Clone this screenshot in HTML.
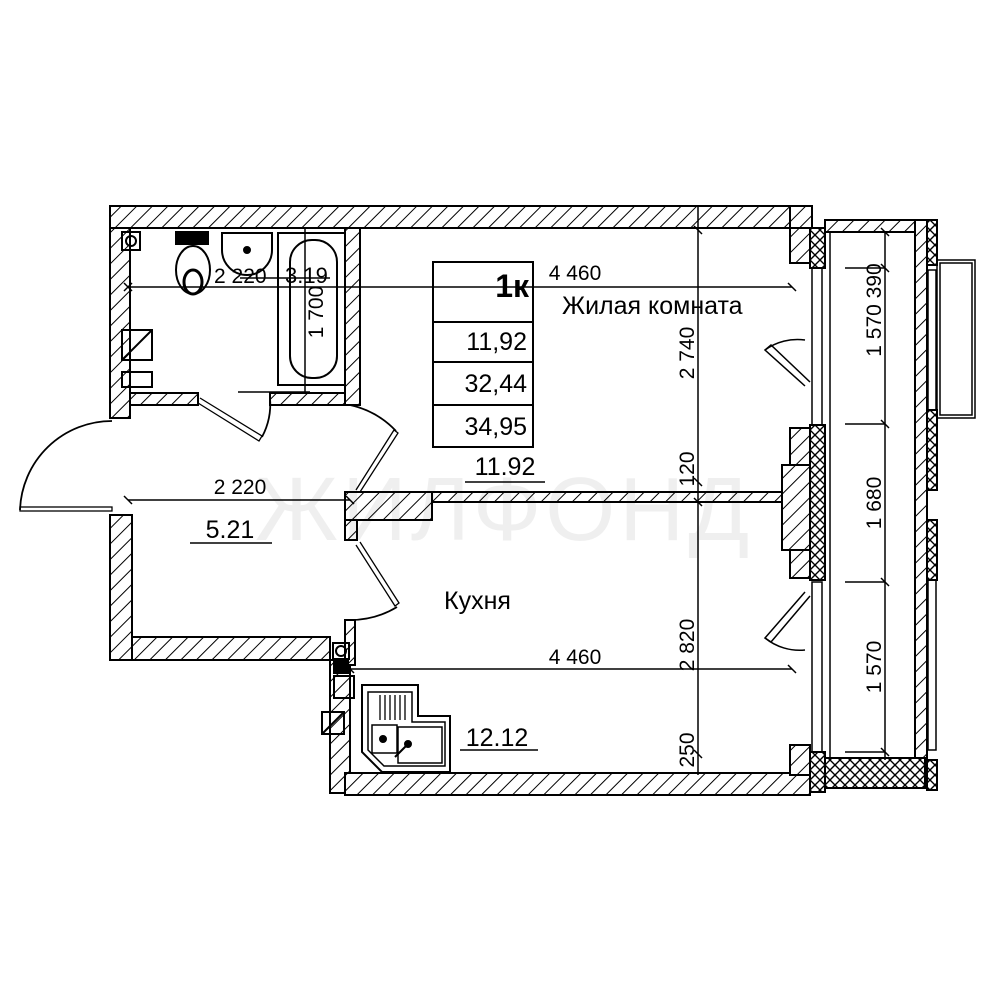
<!DOCTYPE html>
<html><head><meta charset="utf-8"><style>
html,body{margin:0;padding:0;background:#fff;}
svg{display:block;}
text{font-family:"Liberation Sans Narrow","Liberation Sans",sans-serif;fill:#000;}
</style></head><body>
<svg width="1000" height="1000" viewBox="0 0 1000 1000" xmlns="http://www.w3.org/2000/svg">
<defs>
<pattern id="h" patternUnits="userSpaceOnUse" width="11" height="11" patternTransform="rotate(45)">
<rect width="11" height="11" fill="#fff"/><line x1="0" y1="0" x2="0" y2="11" stroke="#000" stroke-width="2"/>
</pattern>
<pattern id="x" patternUnits="userSpaceOnUse" width="10" height="10">
<rect width="10" height="10" fill="#fff"/><path d="M0 0L10 10M10 0L0 10" stroke="#000" stroke-width="1.4"/>
</pattern>
</defs>
<g stroke="#000" stroke-width="2" fill="url(#h)">
<rect x="110" y="206" width="680" height="22"/>
<rect x="790" y="206" width="22" height="22"/>
<rect x="110" y="228" width="20" height="190"/>
<rect x="110" y="515" width="22" height="145"/>
<rect x="132" y="637" width="198" height="23"/>
<rect x="345" y="228" width="15" height="177"/>
<rect x="130" y="393" width="68" height="12"/>
<rect x="270" y="393" width="75" height="12"/>
<rect x="330" y="660" width="20" height="133"/>
<rect x="345" y="620" width="10" height="45"/>
<rect x="345" y="773" width="465" height="22"/>
<rect x="345" y="492" width="445" height="10"/>
<rect x="345" y="492" width="87" height="28"/>
<rect x="345" y="520" width="12" height="20"/>
<rect x="790" y="228" width="20" height="35"/>
<rect x="790" y="428" width="20" height="150"/>
<rect x="782" y="465" width="28" height="85"/>
<rect x="790" y="745" width="20" height="30"/>
<rect x="825" y="220" width="100" height="12"/>
<rect x="915" y="220" width="12" height="540"/>
</g>
<g stroke="#000" stroke-width="2" fill="url(#x)">
<rect x="810" y="228" width="15" height="40"/>
<rect x="810" y="425" width="15" height="155"/>
<rect x="810" y="752" width="15" height="40"/>
<rect x="825" y="758" width="100" height="30"/>
<rect x="927" y="220" width="10" height="45"/>
<rect x="927" y="410" width="10" height="80"/>
<rect x="927" y="520" width="10" height="60"/>
<rect x="927" y="760" width="10" height="30"/>
</g>
<g stroke="#000" stroke-width="1.5" fill="none">
<rect x="812" y="268" width="10" height="157"/>
<rect x="812" y="582" width="10" height="170"/>
<rect x="928" y="270" width="8" height="140"/>
<rect x="928" y="580" width="8" height="170"/>
<rect x="937" y="260" width="38" height="158"/>
<rect x="940" y="263" width="32" height="152"/>
<rect x="830" y="232" width="85" height="526"/>
</g>
<g stroke="#000" stroke-width="1.5" fill="none">
<path d="M805 386 L765 350 L771 345 L810 382"/>
<path d="M765 350 A55 55 0 0 1 805 340"/>
<path d="M805 592 L765 638 L771 642 L810 596"/>
<path d="M765 638 A55 55 0 0 0 805 650"/>
</g>
<g stroke="#000" stroke-width="1.8" fill="none">
<path d="M112 421 A92 92 0 0 0 20 510"/>
<rect x="20" y="507" width="92" height="4" stroke-width="1.3"/>
<path d="M200 398 L262 436 L259 441 L198 403" stroke-width="1.3"/>
<path d="M262 437 A70 70 0 0 0 270 398"/>
<path d="M356 490 L394 430 L398 433 L360 492" stroke-width="1.3"/>
<path d="M396 431 A90 90 0 0 0 350 405"/>
<path d="M356 545 L395 606 L399 603 L360 542" stroke-width="1.3"/>
<path d="M397 607 A90 90 0 0 1 350 620"/>
</g>
<g stroke="#000" stroke-width="2" fill="none">
<rect x="122" y="232" width="18" height="18"/><circle cx="131" cy="241" r="5"/>
<rect x="176" y="232" width="32" height="12" fill="#000"/>
<ellipse cx="193" cy="270" rx="17" ry="24"/><ellipse cx="193" cy="282" rx="9" ry="12" stroke-width="3"/>
<path d="M222 233 H272 V250 A25 25 0 0 1 222 250 Z"/>
<circle cx="247" cy="250" r="3" fill="#000"/>
<rect x="278" y="233" width="67" height="152"/>
<rect x="290" y="240" width="47" height="138" rx="22"/>
<rect x="122" y="330" width="30" height="30"/><line x1="122" y1="360" x2="152" y2="330"/>
<rect x="122" y="372" width="30" height="15"/>
<rect x="333" y="643" width="16" height="16"/><circle cx="341" cy="651" r="5"/>
<rect x="334" y="661" width="14" height="12" fill="#000"/>
<rect x="334" y="676" width="20" height="22"/>
<rect x="322" y="712" width="22" height="22"/><line x1="322" y1="734" x2="344" y2="712"/>
<path d="M362 685 H418 V716 H450 V772 H382 L362 752 Z"/>
<path d="M368 692 H412 V722 H445 V766 H384 L368 750 Z" stroke-width="1.5"/>
<rect x="372" y="725" width="25" height="28" stroke-width="1.5"/>
<rect x="398" y="727" width="44" height="36" stroke-width="1.5"/>
<path d="M380 695V720M385 695V720M390 695V720M395 695V720M400 695V720M405 695V720" stroke-width="1.3"/>
<circle cx="383" cy="739" r="3" fill="#000"/><circle cx="408" cy="744" r="3" fill="#000"/>
<line x1="395" y1="757" x2="408" y2="744"/>
</g>
<g stroke="#000" stroke-width="1.5" fill="none">
<line x1="128" y1="287" x2="792" y2="287"/>
<line x1="128" y1="500" x2="350" y2="500"/>
<line x1="350" y1="669" x2="792" y2="669"/>
<line x1="698" y1="206" x2="698" y2="775"/>
<line x1="885" y1="232" x2="885" y2="760"/>
<line x1="305" y1="228" x2="305" y2="392"/>
<line x1="238" y1="392" x2="310" y2="392"/>
<line x1="240" y1="278" x2="330" y2="278"/>
<path d="M124 283l8 8M124 291l8-8M788 283l8 8M124 496l8 8M346 496l8 8M346 665l8 8M788 665l8 8"/>
<path d="M694 226l8 8M694 478l8 8M694 498l8 8M694 750l8 8M881 228l8 8M881 264l8 8M881 420l8 8M881 578l8 8M881 748l8 8"/>
<path d="M845 268H885M845 424H885M845 582H885M845 752H885"/>
</g>
<g stroke="#000" stroke-width="2" fill="none">
<rect x="433" y="262" width="100" height="185"/>
<line x1="433" y1="322" x2="533" y2="322"/>
<line x1="433" y1="362" x2="533" y2="362"/>
<line x1="433" y1="405" x2="533" y2="405"/>
<line x1="465" y1="482" x2="545" y2="482" stroke-width="1.5"/>
<line x1="190" y1="543" x2="272" y2="543" stroke-width="1.5"/>
<line x1="460" y1="750" x2="538" y2="750" stroke-width="1.5"/>
</g>
<text x="255" y="540" font-size="90" fill="#000" opacity="0.06" letter-spacing="4" font-family="Liberation Sans, sans-serif">ЖИЛФОНД</text>
<g font-size="20">
<text x="529" y="297" text-anchor="end" font-size="32" font-weight="bold">1к</text>
<text x="527" y="350" text-anchor="end" font-size="25">11,92</text>
<text x="527" y="392" text-anchor="end" font-size="25">32,44</text>
<text x="527" y="435" text-anchor="end" font-size="25">34,95</text>
<text x="505" y="475" text-anchor="middle" font-size="25">11.92</text>
<text x="230" y="538" text-anchor="middle" font-size="25">5.21</text>
<text x="497" y="746" text-anchor="middle" font-size="25">12.12</text>
<text x="562" y="314" font-size="25">Жилая комната</text>
<text x="444" y="609" font-size="25">Кухня</text>
<text x="575" y="280" text-anchor="middle" font-size="21">4 460</text>
<text x="575" y="664" text-anchor="middle" font-size="21">4 460</text>
<text x="240" y="494" text-anchor="middle" font-size="21">2 220</text>
<text x="214" y="283" font-size="21">2 220</text>
<text x="285" y="283" font-size="22">3.19</text>
<text transform="translate(323,312) rotate(-90)" text-anchor="middle" font-size="21">1 700</text>
<text transform="translate(694,353) rotate(-90)" text-anchor="middle" font-size="21">2 740</text>
<text transform="translate(694,469) rotate(-90)" text-anchor="middle" font-size="21">120</text>
<text transform="translate(694,645) rotate(-90)" text-anchor="middle" font-size="21">2 820</text>
<text transform="translate(694,750) rotate(-90)" text-anchor="middle" font-size="21">250</text>
<text transform="translate(881,310) rotate(-90)" text-anchor="middle" font-size="21">1 570 390</text>
<text transform="translate(881,503) rotate(-90)" text-anchor="middle" font-size="21">1 680</text>
<text transform="translate(881,667) rotate(-90)" text-anchor="middle" font-size="21">1 570</text>
</g>
</svg>
</body></html>
